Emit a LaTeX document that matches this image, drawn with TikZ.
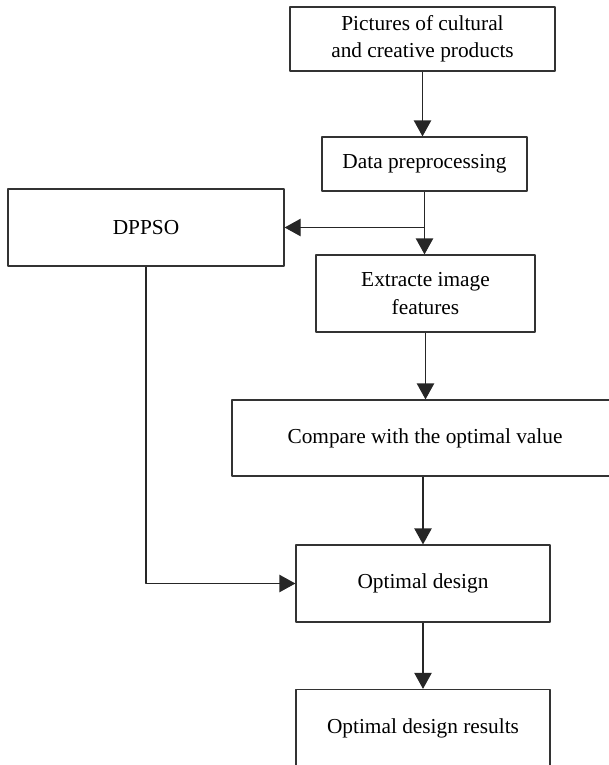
\documentclass[tikz,border=0pt]{standalone}
\usepackage{fontspec}
\setmainfont{Liberation Serif}
\usetikzlibrary{arrows.meta}
\begin{document}
\begin{tikzpicture}[x=0.75pt, y=-0.75pt, font=\fontsize{16}{20.5}\selectfont, line join=round,
	box/.style={draw=black!80, line width=0.9pt, align=center, inner sep=0pt},
	arr/.style={draw=black!85, line width=0.9pt, -{Triangle[length=12pt, width=13pt]}}]
			\clip (0,0) rectangle (609,765);
			\node[box, minimum width=265*0.75pt, minimum height=64*0.75pt] (pics) at (422.5,39) {Pictures of cultural\\and creative products};
			\node[box, minimum width=205*0.75pt, minimum height=54*0.75pt] (prep) at (424.5,164) {Data preprocessing};
			\node[box, minimum width=276*0.75pt, minimum height=77*0.75pt] (dppso) at (146,227.5) {DPPSO};
			\node[box, minimum width=219*0.75pt, minimum height=77*0.75pt] (feat) at (425.5,293.5) {Extracte image\\features};
			\node[box, minimum width=386*0.75pt, minimum height=76*0.75pt] (cmp) at (425,438) {Compare with the optimal value};
			\node[box, minimum width=254*0.75pt, minimum height=77*0.75pt] (opt) at (423,583.5) {Optimal design};
			\node[box, minimum width=254*0.75pt, minimum height=77*0.75pt] (res) at (423,728) {Optimal design results};
			\coordinate (split) at (prep.south |- dppso.east);
			\draw[arr] (pics.south) -- (pics.south |- prep.north);
			\draw[arr] (prep.south) -- (prep.south |- feat.north);
			\draw[arr] (split) -- (dppso.east);
			\draw[arr] (feat.south) -- (feat.south |- cmp.north);
			\draw[arr] (cmp.south -| opt.north) -- (opt.north);
			\draw[arr] (dppso.south) |- (opt.west);
			\draw[arr] (opt) -- (res);
		\end{tikzpicture}
\end{document}
